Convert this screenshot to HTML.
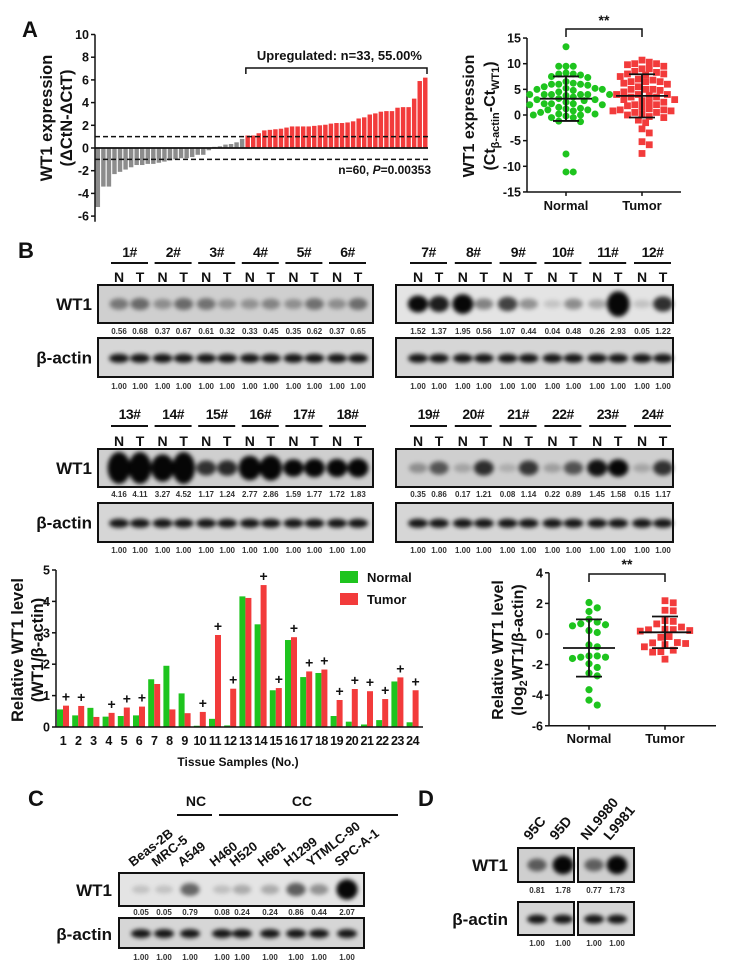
<!DOCTYPE html>
<html><head><meta charset="utf-8">
<style>
html,body{margin:0;padding:0;background:#fff;}
svg{display:block;font-family:"Liberation Sans",Arial,sans-serif;font-weight:bold;}
</style></head>
<body>
<svg id="fig" width="744" height="964" viewBox="0 0 744 964" xmlns="http://www.w3.org/2000/svg">
<defs>
<filter id="blur" x="-50%" y="-50%" width="200%" height="200%"><feGaussianBlur stdDeviation="2.2"/></filter>
</defs>
<g id="root"></g>
</svg>
<script>
// ---------- DATA ----------
const waterfallValues = [-5.2,-3.4,-3.4,-2.3,-2.1,-1.9,-1.7,-1.5,-1.5,-1.4,-1.4,-1.3,-1.2,-1.1,-1.0,-0.9,-0.9,-0.8,-0.6,-0.6,-0.2,
 0.1,0.15,0.3,0.35,0.5,0.8,
 1.1,1.1,1.3,1.55,1.6,1.65,1.7,1.8,1.9,1.9,1.9,1.9,1.95,2.0,2.05,2.15,2.2,2.2,2.25,2.35,2.6,2.7,2.95,3.05,3.2,3.25,3.25,3.55,3.6,3.6,4.35,5.9,6.2];
const upregulatedCount = 33;
const waterfallTicks = [10,8,6,4,2,0,-2,-4,-6];

const scatterANormal = [13.3,9.5,9.5,9.5,8.2,8.0,8.0,7.8,7.5,7.3,6.0,6.2,6.0,6.0,5.8,5.2,5.0,5.0,5.2,4.8,4.0,4.0,4.0,4.0,4.0,4.0,3.2,3.0,3.0,2.8,2.2,2.2,2.2,2.0,2.0,1.5,1.3,1.2,0.5,0.2,0.2,0.0,-0.2,0.0,-0.5,-0.5,-1.2,-1.3,1.0,1.0,3.5,3.8,6.5,4.5,-7.6,-11.1,-11.1,5.5,2.5,0.8];
const scatterATumor = [10.7,10.3,10.0,10.0,9.8,9.5,9.0,9.0,8.5,8.3,8.0,8.0,7.5,7.0,6.8,6.5,6.5,6.5,6.2,6.0,5.5,5.0,5.0,5.0,4.8,4.5,4.0,4.0,4.0,3.5,3.5,3.0,3.0,2.8,2.5,2.5,2.0,2.0,1.8,1.5,1.2,1.0,1.0,0.8,0.8,0.5,0.5,0.2,0.0,-0.3,-0.5,-1.0,-1.5,-2.7,-3.5,-5.2,-5.8,-7.5,7.8,3.8];
const scatterATicks = [15,10,5,0,-5,-10,-15];

const blotNormal = [0.56,0.37,0.61,0.33,0.35,0.37,1.52,1.95,1.07,0.04,0.26,0.05,4.16,3.27,1.17,2.77,1.59,1.72,0.35,0.17,0.08,0.22,1.45,0.15];
const blotTumor  = [0.68,0.67,0.32,0.45,0.62,0.65,1.37,0.56,0.44,0.48,2.93,1.22,4.11,4.52,1.24,2.86,1.77,1.83,0.86,1.21,1.14,0.89,1.58,1.17];
const barTicks = [0,1,2,3,4,5];
const scatterBTicks = [4,2,0,-2,-4,-6];

const cLines = ["Beas-2B","MRC-5","A549","H460","H520","H661","H1299","YTMLC-90","SPC-A-1"];
const cValues = [0.05,0.05,0.79,0.08,0.24,0.24,0.86,0.44,2.07];
const dLines = ["95C","95D","NL9980","L9981"];
const dValues = [0.81,1.78,0.77,1.73];

// ---------- HELPERS ----------
const NS="http://www.w3.org/2000/svg";
const root=document.getElementById('root');
function mk(tag,attrs,parent){const e=document.createElementNS(NS,tag);for(const k in attrs)e.setAttribute(k,attrs[k]);(parent||root).appendChild(e);return e;}
function txt(s,x,y,size,anchor,parent,extra){const e=mk('text',Object.assign({x:x,y:y,'font-size':size,'text-anchor':anchor||'start',fill:'#111'},extra||{}),parent);e.textContent=s;return e;}
function line(x1,y1,x2,y2,w,parent,dash){const a={x1:x1,y1:y1,x2:x2,y2:y2,stroke:'#111','stroke-width':w||1.5};if(dash)a['stroke-dasharray']=dash;return mk('line',a,parent);}
function fmt(v){return v.toFixed(2);}
function mean(a){return a.reduce((s,v)=>s+v,0)/a.length;}
function sd(a){const m=mean(a);return Math.sqrt(a.reduce((s,v)=>s+(v-m)*(v-m),0)/(a.length-1));}
function swarm(vals,yf,cx,d){const pts=[];const idx=vals.map((v,i)=>i).sort((a,b)=>vals[b]-vals[a]);const out=new Array(vals.length);
 idx.forEach(i=>{const y=yf(vals[i]);let k=0,x=cx;while(true){const off=(k===0?0:Math.ceil(k/2)*(k%2?1:-1))*d*0.55;x=cx+off;if(!pts.some(p=>Math.hypot(p[0]-x,p[1]-y)<d))break;k++;if(k>40)break;}pts.push([x,y]);out[i]=[x,y];});return out;}

// panel letters
[['A',22,37],['B',18,258],['C',28,806],['D',418,806]].forEach(p=>{
 const t=txt(p[0],p[1],p[2],22,'start');
 
 
});

// ---------- PANEL A: waterfall ----------
(function(){
 const g=mk('g',{});
 
 
 const x0=95,x1=428,y0=148,ppu=11.35;
 const y=v=>y0-v*ppu;
 const slot=(x1-x0)/waterfallValues.length;
 const nGray=waterfallValues.length-upregulatedCount;
 waterfallValues.forEach((v,i)=>{
  const r=mk('rect',{x:x0+i*slot+0.6,y:Math.min(y(v),y0),width:slot-1.1,height:Math.abs(y(v)-y0),fill:i<nGray?'#8c8c8c':'#f23b3b'},g);
  
  
 });
 line(x0,y(10),x0,y(-6.5),1.5,g);
 waterfallTicks.forEach(t=>{line(x0-4,y(t),x0,y(t),1.5,g);txt(String(t),x0-6,y(t)+4.5,12.5,'end',g);});
 line(x0,y0,x1,y0,1.8,g);
 line(x0,y(1),x1,y(1),1.5,g,'5,3');
 line(x0,y(-1),x1,y(-1),1.5,g,'5,3');
 const bx0=x0+nGray*slot+1, bx1=x1-1;
 const br=mk('path',{d:`M${bx0},74 L${bx0},68 L${bx1},68 L${bx1},74`,fill:'none',stroke:'#111','stroke-width':1.5},g);
 
 
 txt('Upregulated: n=33, 55.00%',(bx0+bx1)/2+3,60,13,'middle',g);
 const st=mk('text',{x:431,y:174,'font-size':12,'text-anchor':'end',fill:'#111'},g);
 st.innerHTML='n=60, <tspan font-style="italic">P</tspan>=0.00353';
 
 
 const t1=txt('WT1 expression',0,0,16.5,'middle',g,{transform:'translate(52,118) rotate(-90)'});
 
 
 txt('(ΔCtN-ΔCtT)',0,0,16.5,'middle',g,{transform:'translate(72,118) rotate(-90)'});
})();

// ---------- PANEL A: scatter ----------
(function(){
 const g=mk('g',{});
 
 
 const ax=527,y0=115,ppu=5.13;const y=v=>y0-v*ppu;
 line(ax,y(15),ax,y(-15),1.5,g);
 line(ax,y(-15),681,y(-15),1.5,g);
 scatterATicks.forEach(t=>{line(ax-4,y(t),ax,y(t),1.5,g);txt(String(t),ax-6,y(t)+4.5,12.5,'end',g);});
 const cx=[566,642];
 [cx[0],cx[1]].forEach(c=>line(c,y(-15),c,y(-15)+4,1.5,g));
 const nPts=swarm(scatterANormal,y,cx[0],6.6);
 nPts.forEach(p=>{const c=mk('circle',{cx:p[0],cy:p[1],r:3.5,fill:'#1ec41e'},g);});
 const tPts=swarm(scatterATumor,y,cx[1],6.6);
 tPts.forEach(p=>{const r=mk('rect',{x:p[0]-3.4,y:p[1]-3.4,width:6.8,height:6.8,fill:'#f23b3b'},g);});
 [[scatterANormal,cx[0]],[scatterATumor,cx[1]]].forEach(d=>{const m=mean(d[0]),s=sd(d[0]);
  line(d[1]-26,y(m),d[1]+26,y(m),1.8,g);line(d[1],y(m+s),d[1],y(m-s),1.8,g);
  line(d[1]-13,y(m+s),d[1]+13,y(m+s),1.8,g);line(d[1]-13,y(m-s),d[1]+13,y(m-s),1.8,g);});
 mk('path',{d:`M${cx[0]},37 L${cx[0]},29 L${cx[1]},29 L${cx[1]},37`,fill:'none',stroke:'#111','stroke-width':1.5},g);
 txt('**',604,25,14,'middle',g);
 txt('Normal',cx[0],210,13,'middle',g);txt('Tumor',cx[1],210,13,'middle',g);
 const t1=mk('text',{'font-size':16,'text-anchor':'middle',fill:'#111',transform:'translate(474,116) rotate(-90)'},g);t1.textContent='WT1 expression';
 
 
 const t2=mk('text',{'font-size':16,'text-anchor':'middle',fill:'#111',transform:'translate(495,116) rotate(-90)'},g);
 t2.innerHTML='(Ct<tspan font-size="11" dy="4">β-actin</tspan><tspan dy="-4">-Ct</tspan><tspan font-size="11" dy="4">WT1</tspan><tspan dy="-4">)</tspan>';
})();

// ---------- PANEL B: blots ----------
function blot(x0,x1,y0,y1,lanes,vals,isActin,parent,name,light){
 const g=mk('g',{},parent);
 
 
 mk('rect',{x:x0,y:y0,width:x1-x0,height:y1-y0,fill:light?'#e4e4e4':(isActin?'#d6d6d6':'#cfcfcf')},g);
 const bg=mk('g',{filter:'url(#blur)'},g);
 lanes.forEach((lx,i)=>{
  const v=vals[i];
  const op=isActin?0.9:Math.min(0.97,0.12+0.55*v);
  const h=(y1-y0);
  const ry=isActin?4.5:Math.min(h*0.42,4+v*3);
  mk('ellipse',{cx:lx,cy:y0+h*(isActin?0.52:0.5),rx:isActin?10:9+Math.min(v,3)*0.8,ry:ry,fill:'#000','fill-opacity':op},bg);
 });
 mk('rect',{x:x0,y:y0,width:x1-x0,height:y1-y0,fill:'none',stroke:'#111','stroke-width':2},g);
}
(function(){
 const g=mk('g',{});
 
 
 const rows=[{lab:252,ul:263,nt:282,w:[285,323],wn:334,a:[338,377],an:389},{lab:414,ul:426,nt:446,w:[449,487],wn:497,a:[503,542],an:553}];
 const boxes=[[98,373,119,43.6],[396,673,418,44.8]];
 rows.forEach((r,ri)=>{
  boxes.forEach((b,bi)=>{
   const start=ri*12+bi*6;
   const lanes=[],vals=[],ones=[];
   for(let s=0;s<6;s++){
    const idx=start+s;
    const ln=b[2]+s*b[3],lt=ln+21;
    lanes.push(ln,lt);vals.push(blotNormal[idx],blotTumor[idx]);ones.push(1,1);
    txt((idx+1)+'#',(ln+lt)/2,r.lab+5,14,'middle',g,{'letter-spacing':'-0.5'});
    line(ln-8,r.ul,lt+8,r.ul,2,g);
    txt('N',ln,r.nt,14,'middle',g);txt('T',lt,r.nt,14,'middle',g);
    txt(fmt(blotNormal[idx]),ln,r.wn,8,'middle',g,{fill:'#333'});
    txt(fmt(blotTumor[idx]),lt,r.wn,8,'middle',g,{fill:'#333'});
    txt('1.00',ln,r.an,8,'middle',g,{fill:'#333'});txt('1.00',lt,r.an,8,'middle',g,{fill:'#333'});
   }
   blot(b[0],b[1],r.w[0],r.w[1],lanes,vals,false,g,'wt1-blot',bi===1&&ri===0);
   blot(b[0],b[1],r.a[0],r.a[1],lanes,ones,true,g,'actin-blot');
  });
  txt('WT1',92,(r.w[0]+r.w[1])/2+6,17,'end',g);
  txt('β-actin',92,(r.a[0]+r.a[1])/2+6,17,'end',g);
 });
})();

// ---------- PANEL B: grouped bar chart ----------
(function(){
 const g=mk('g',{});
 
 
 const ax=56,y0=727,ppu=31.4;const y=v=>y0-v*ppu;
 const slot=15.2,first=63,bw=6;
 blotNormal.forEach((v,i)=>{
  const c=first+i*slot;
  const r1=mk('rect',{x:c-bw,y:y(v),width:bw,height:y0-y(v),fill:'#1ec41e'},g);
  
  
  const tv=blotTumor[i];
  const r2=mk('rect',{x:c,y:y(tv),width:bw,height:y0-y(tv),fill:'#f23b3b'},g);
  
  
  if(tv>v) txt('+',c+bw/2,y(tv)-4,14,'middle',g);
  txt(String(i+1),c,745,12.5,'middle',g,{'letter-spacing':'-0.5'});
 });
 line(ax,y(5),ax,y0,1.5,g);line(ax,y0,423,y0,1.5,g);
 barTicks.forEach(t=>{line(ax-4,y(t),ax,y(t),1.5,g);txt(String(t),ax-6,y(t)+4.5,12.5,'end',g);});
 txt('Tissue Samples (No.)',238,766,12,'middle',g);
 const t1=txt('Relative WT1 level',0,0,16.5,'middle',g,{transform:'translate(23,650) rotate(-90)'});
 
 
 txt('(WT1/β-actin)',0,0,16.5,'middle',g,{transform:'translate(43,650) rotate(-90)'});
 const l1=mk('rect',{x:340,y:571,width:18,height:12,fill:'#1ec41e'},g);
 
 
 txt('Normal',367,582,13,'start',g);
 const l2=mk('rect',{x:340,y:593,width:18,height:12,fill:'#f23b3b'},g);
 
 
 txt('Tumor',367,604,13,'start',g);
})();

// ---------- PANEL B: log2 scatter ----------
(function(){
 const g=mk('g',{});
 
 
 const ax=549,y0=634,ppu=15.3;const y=v=>y0-v*ppu;
 const ln=blotNormal.map(v=>Math.log2(v)),lt=blotTumor.map(v=>Math.log2(v));
 line(ax,y(4),ax,y(-6),1.5,g);line(ax,y(-6),716,y(-6),1.5,g);
 scatterBTicks.forEach(t=>{line(ax-4,y(t),ax,y(t),1.5,g);txt(String(t),ax-6,y(t)+4.5,12.5,'end',g);});
 const cx=[589,665];
 cx.forEach(c=>line(c,y(-6),c,y(-6)+4,1.5,g));
 swarm(ln,y,cx[0],7.5).forEach(p=>{const c=mk('circle',{cx:p[0],cy:p[1],r:3.6,fill:'#1ec41e'},g);});
 swarm(lt,y,cx[1],7.5).forEach(p=>{const r=mk('rect',{x:p[0]-3.4,y:p[1]-3.4,width:6.8,height:6.8,fill:'#f23b3b'},g);});
 [[ln,cx[0]],[lt,cx[1]]].forEach(d=>{const m=mean(d[0]),s=sd(d[0]);
  line(d[1]-26,y(m),d[1]+26,y(m),1.8,g);line(d[1],y(m+s),d[1],y(m-s),1.8,g);
  line(d[1]-13,y(m+s),d[1]+13,y(m+s),1.8,g);line(d[1]-13,y(m-s),d[1]+13,y(m-s),1.8,g);});
 mk('path',{d:`M${cx[0]},582 L${cx[0]},574 L${cx[1]},574 L${cx[1]},582`,fill:'none',stroke:'#111','stroke-width':1.5},g);
 txt('**',627,569,14,'middle',g);
 txt('Normal',cx[0],743,13,'middle',g);txt('Tumor',cx[1],743,13,'middle',g);
 const t1=txt('Relative WT1 level',0,0,16,'middle',g,{transform:'translate(503,650) rotate(-90)'});
 
 
 const t2=mk('text',{'font-size':16,'text-anchor':'middle',fill:'#111',transform:'translate(523,650) rotate(-90)'},g);
 t2.innerHTML='(log<tspan font-size="11" dy="4">2</tspan><tspan dy="-4">WT1/β-actin)</tspan>';
})();

// ---------- PANEL C ----------
(function(){
 const g=mk('g',{});
 
 
 const x0=119,x1=364;
 const lanes=[141,164,190,222,242,270,296,319,347];
 txt('NC',196,806,14,'middle',g);line(177,815,212,815,2,g);
 txt('CC',302,806,14,'middle',g);line(219,815,398,815,2,g);
 cLines.forEach((s,i)=>{
  const t=txt(s,0,0,13,'start',g,{transform:`translate(${lanes[i]-8},${867}) rotate(-38)`});
  
  
  txt(fmt(cValues[i]),lanes[i],915,8,'middle',g,{fill:'#333'});
  txt('1.00',lanes[i],960,8,'middle',g,{fill:'#333'});
 });
 blot(x0,x1,873,906,lanes,cValues,false,g,'c-wt1-blot',true);
 blot(x0,x1,918,948,lanes,cValues.map(()=>1),true,g,'c-actin-blot');
 txt('WT1',112,896,17,'end',g);
 txt('β-actin',112,940,17,'end',g);
})();

// ---------- PANEL D ----------
(function(){
 const g=mk('g',{});
 
 
 const boxes=[[518,574],[578,634]];
 const lanes=[537,563,594,617];
 dLines.forEach((s,i)=>{
  const t=txt(s,0,0,14,'start',g,{transform:`translate(${lanes[i]-7},${841}) rotate(-50)`});
  
  
  txt(fmt(dValues[i]),lanes[i],893,8,'middle',g,{fill:'#333'});
  txt('1.00',lanes[i],946,8,'middle',g,{fill:'#333'});
 });
 boxes.forEach((b,bi)=>{
  blot(b[0],b[1],848,882,lanes.slice(bi*2,bi*2+2),dValues.slice(bi*2,bi*2+2),false,g,'d-wt1-blot');
  blot(b[0],b[1],902,935,lanes.slice(bi*2,bi*2+2),[1,1],true,g,'d-actin-blot');
 });
 txt('WT1',508,871,17,'end',g);
 txt('β-actin',508,925,17,'end',g);
})();
</script>
</body></html>
